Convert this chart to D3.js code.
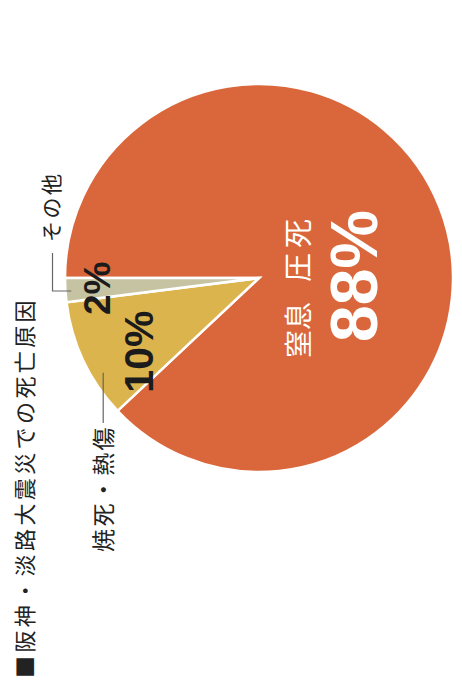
<!DOCTYPE html>
<html>
<head>
<meta charset="utf-8">
<script src="https://cdn.jsdelivr.net/npm/d3@7"></script>
<style>
  html, body { margin: 0; padding: 0; background: #fff; }
  svg { display: block; }
</style>
</head>
<body>
<script>
// ---- data ----
const title = "■阪神・淡路大震災での死亡原因";
const categories = ["窒息・圧死", "焼死・熱傷", "その他"];
const values = [88, 10, 2];
const colors = ["#D9673B", "#DBB44D", "#C6C3A3"];

// ---- layout (chart drawn in its original landscape frame, then rotated) ----
const W = 462, H = 684;
const cx = 406, cy = 259, R = 194;

const svg = d3.select("body").append("svg").attr("width", W).attr("height", H);
const g = svg.append("g").attr("transform", `translate(0,${H}) rotate(-90)`);

const pie = d3.pie().sort(null).value(d => d)(values);
const arc = d3.arc().innerRadius(0).outerRadius(R);

const pg = g.append("g").attr("transform", `translate(${cx},${cy})`);
pg.selectAll("path").data(pie).join("path")
  .attr("d", arc)
  .attr("fill", (d, i) => colors[i])
  .attr("stroke", "#fff")
  .attr("stroke-width", 2.5)
  .attr("stroke-linejoin", "miter");

// polar helper: angle inside slice (fraction), radius (fraction of R)
function polar(d, frac, rf) {
  const a = d.startAngle + frac * (d.endAngle - d.startAngle);
  return [cx + Math.sin(a) * R * rf, cy - Math.cos(a) * R * rf];
}

const jp = "'Noto Sans CJK JP'";
const num = "'Liberation Sans', Arial, sans-serif";

// title
g.append("text")
  .attr("x", 6).attr("y", 33)
  .attr("font-family", jp)
  .attr("font-size", 22)
  .attr("letter-spacing", 3.4)
  .attr("fill", "#222")
  .text(title);

// ---- その他 leader + label ----
{
  const d = pie[2];
  const [x0, y0] = polar(d, 0.45, 0.97);
  const yL = 52.5, xEnd = 431;
  g.append("path")
    .attr("d", `M${x0},${y0} V${yL} H${xEnd}`)
    .attr("fill", "none").attr("stroke", "#666").attr("stroke-width", 1.2);
  g.append("text")
    .attr("x", xEnd + 11).attr("y", yL + 6)
    .attr("font-family", jp).attr("font-size", 21).attr("letter-spacing", 2.5)
    .attr("fill", "#222")
    .text(categories[2]);
  const [lx, ly] = polar(d, 0.5, 0.84);
  g.append("text")
    .attr("x", lx).attr("y", ly + 37 * 0.36)
    .attr("text-anchor", "middle")
    .attr("font-family", num).attr("font-weight", "bold").attr("font-size", 37)
    .attr("fill", "#1b1b1b")
    .text(values[2] + "%");
}

// ---- 焼死・熱傷 leader + label ----
{
  const d = pie[1];
  const [x0, y0] = polar(d, 0.33, 0.94);
  const xEnd = 261;
  g.append("path")
    .attr("d", `M${x0},${y0} H${xEnd}`)
    .attr("fill", "none").attr("stroke", "#666").attr("stroke-width", 1.2);
  g.append("text")
    .attr("x", 132).attr("y", y0 + 9)
    .attr("font-family", jp).attr("font-size", 23).attr("letter-spacing", 2.4)
    .attr("fill", "#222")
    .text(categories[1]);
  const [lx, ly] = polar(d, 0.33, 0.73);
  g.append("text")
    .attr("x", lx).attr("y", ly + 41 * 0.36)
    .attr("text-anchor", "middle")
    .attr("font-family", num).attr("font-weight", "bold").attr("font-size", 41)
    .attr("fill", "#1b1b1b")
    .text(values[1] + "%");
}

// ---- 窒息・圧死 label ----
{
  const parts = categories[0].split("・");
  g.append("text")
    .attr("x", 326).attr("y", 299 + 10)
    .attr("font-family", jp).attr("font-size", 28)
    .attr("fill", "#fff")
    .text(parts[0]);
  g.append("text")
    .attr("x", 402).attr("y", 299 + 10)
    .attr("font-family", jp).attr("font-size", 29).attr("letter-spacing", 5)
    .attr("fill", "#fff")
    .text(parts[1]);
  g.append("text")
    .attr("x", 408).attr("y", 353 + 66 * 0.36)
    .attr("text-anchor", "middle")
    .attr("font-family", num).attr("font-weight", "bold").attr("font-size", 66)
    .attr("fill", "#fff")
    .text(values[0] + "%");
}
</script>
</body>
</html>
